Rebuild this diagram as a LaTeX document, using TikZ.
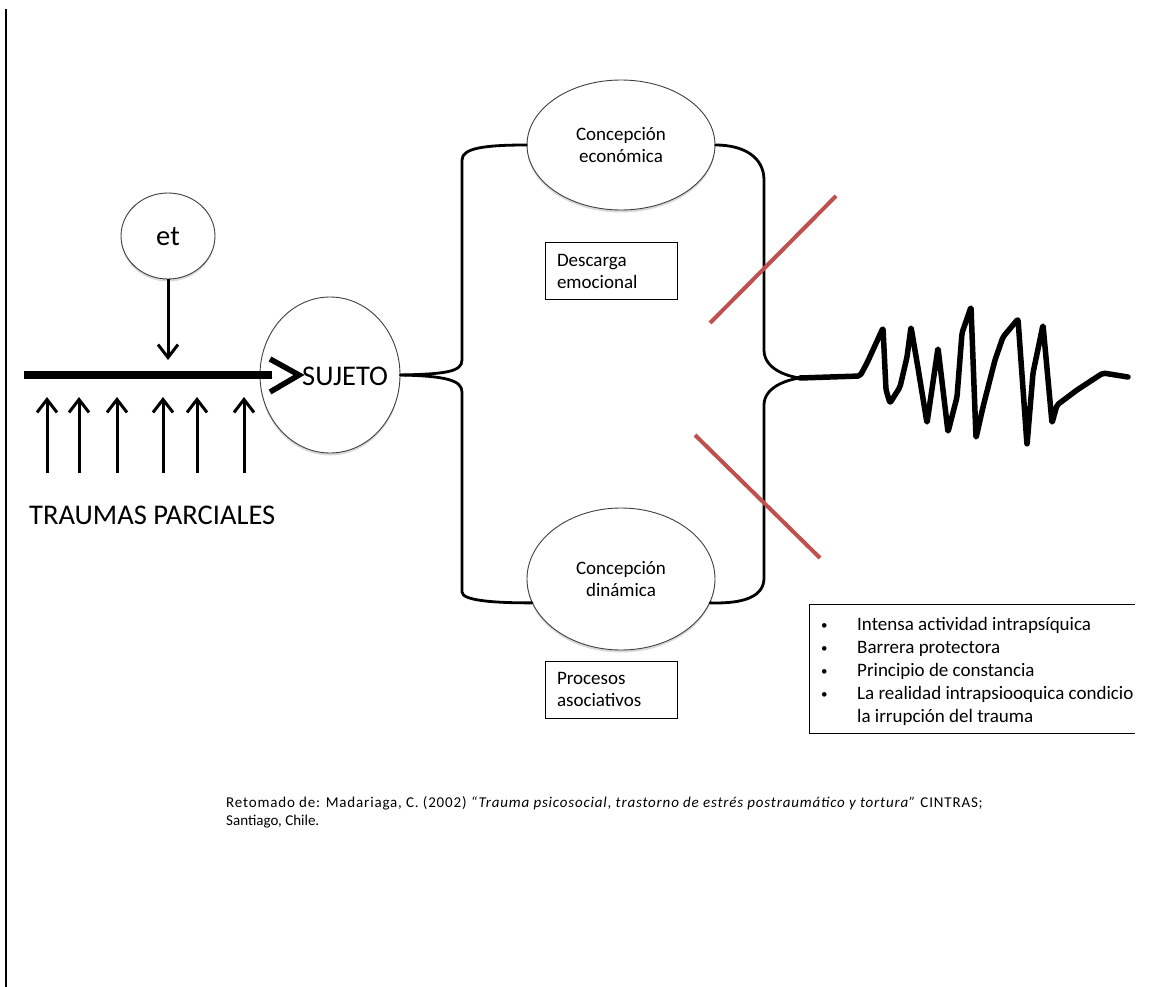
\documentclass[tikz,border=0pt]{standalone}
\usepackage{fontspec}
\setmainfont{Carlito}
\usetikzlibrary{shapes.geometric,arrows.meta,shadows}
\definecolor{redline}{RGB}{192,80,77}
\begin{document}
\begin{tikzpicture}[x=1pt,y=-1pt,
  ell/.style={ellipse, draw=black!75, line width=0.9pt, fill=white, inner sep=0pt,
    drop shadow={shadow xshift=0pt, shadow yshift=-2.5pt, opacity=0.3}},
  txtbox/.style={draw, line width=0.8pt, align=left, text width=108pt, inner xsep=12pt,
    minimum height=57pt, font=\fontsize{19}{22}\selectfont},
  branch/.style={line width=2.8pt, line cap=round},
  uparr/.style={line width=3pt, -{Straight Barb[length=13pt,width=20pt]}},
  crossline/.style={draw=redline, line width=4pt},
  wave/.style={line width=5.5pt, line cap=round, line join=round, rounded corners=2pt},
  bigtxt/.style={font=\fontsize{28.5}{31}\selectfont, inner sep=0pt},
  smalltxt/.style={font=\fontsize{19}{22}\selectfont}
]
\useasboundingbox (0,0) rectangle (1175,987);
% left border
\draw[line width=1.2pt] (6,9) -- (6,987);

% et circle and arrow
\node[ell, minimum width=94pt, minimum height=86pt] (et) at (168,236) {};
\node[bigtxt, anchor=base] (ett) at (168,245) {et};
\coordinate (etend) at (168,360);
\draw[uparr] (et) -- (etend);

% SUJETO
\node[ell, minimum width=140pt, minimum height=156pt] (suj) at (330,375) {};
\node[bigtxt, anchor=base west] (sujt) at (302,385) {SUJETO};

% thick main line and chevron
\coordinate (mstart) at (24,375);
\draw[line width=8pt] (mstart) -- ([xshift=12pt]suj.west);
\draw[line width=5.5pt, miter limit=10] (270,359) -- (299,375) -- (270,392);

% partial trauma arrows
\foreach \i/\x in {1/47,2/79,3/117,4/163,5/197,6/244}{
  \coordinate (us\i) at (\x,473);
  \coordinate (ue\i) at (\x,397);
  \draw[uparr] (us\i) -- (ue\i);
}
\node[bigtxt, anchor=base west] (traumas) at (29,524) {TRAUMAS PARCIALES};

% conception ellipses
\node[ell, minimum width=188pt, minimum height=130pt, align=center, smalltxt] (econ) at (621,145) {Concepción\\económica};
\node[ell, minimum width=188pt, minimum height=142pt, align=center, smalltxt] (dyn) at (621,579) {Concepción\\dinámica};

% boxes
\node[txtbox] (desc) at (611,271) {Descarga\\emocional};
\node[txtbox] (proc) at (611,689.5) {Procesos\\asociativos};

% branches
\coordinate (conv) at (800,378);
\draw[branch] (suj.east) .. controls (445,374) and (462,372) .. (462,360)
  -- (462,160) .. controls (462,148) and (485,145) .. (econ.west);
\draw[branch] (suj.east) .. controls (445,376) and (462,380) .. (462,392)
  -- (462,592) .. controls (462,600) and (490,603) .. (dyn.195);
\draw[branch] (econ.east) .. controls (745,145) and (764,158) .. (764,180)
  -- (764,350) .. controls (764,368) and (785,376) .. (conv);
\draw[branch] (dyn.345) .. controls (745,604) and (764,596) .. (764,578)
  -- (764,405) .. controls (764,388) and (785,380) .. (conv);

% red barrier lines
\coordinate (r1a) at (710,323); \coordinate (r1b) at (836,196);
\coordinate (r2a) at (695,435); \coordinate (r2b) at (820,558);
\draw[crossline] (r1a) -- (r1b);
\draw[crossline] (r2a) -- (r2b);

% wave
\draw[wave] (conv) -- (860,376) -- (867,363) -- (883,328) -- (886,390) -- (890,403)
  -- (900,387) -- (907,357) -- (911,327) -- (918,368) -- (927,423) -- (938,348)
  -- (948,432) -- (957,397) -- (962,333) -- (971,307) -- (976,438) -- (983,407)
  -- (995,360) -- (1003,337) -- (1018,319) -- (1027,445) -- (1033,373) -- (1043,325)
  -- (1052,423) -- (1057,405) -- (1077,390) -- (1103,373) -- (1128,377);

% right box (open at right)
\draw[line width=0.9pt] (1135,604) -- (809,604) -- (809,733) -- (1135,733);
\node[anchor=base west, inner sep=0pt, font=\fontsize{19}{23.2}\selectfont] (list) at (821,630)
  {\begin{tabular}[t]{@{}p{36pt}@{}l@{}}
   \raisebox{1pt}{\fontsize{13}{13}\selectfont\textbullet} & Intensa actividad intrapsíquica\\
   \raisebox{1pt}{\fontsize{13}{13}\selectfont\textbullet} & Barrera protectora\\
   \raisebox{1pt}{\fontsize{13}{13}\selectfont\textbullet} & Principio de constancia\\
   \raisebox{1pt}{\fontsize{13}{13}\selectfont\textbullet} & La realidad intrapsiooquica condicio\\
               & la irrupción del trauma
  \end{tabular}};

% citation
\node[anchor=base west, inner sep=0pt, font=\fontsize{15}{17}\selectfont\addfontfeature{LetterSpace=5.5}] (cite1) at (226,807)
  {Retomado de: Madariaga, C. (2002) \textit{“Trauma psicosocial, trastorno de estrés postraumático y tortura”} CINTRAS;};
\node[anchor=base west, inner sep=0pt, font=\fontsize{15}{17}\selectfont] (cite2) at (226,825)
  {Santiago, Chile.};
\end{tikzpicture}
\end{document}
